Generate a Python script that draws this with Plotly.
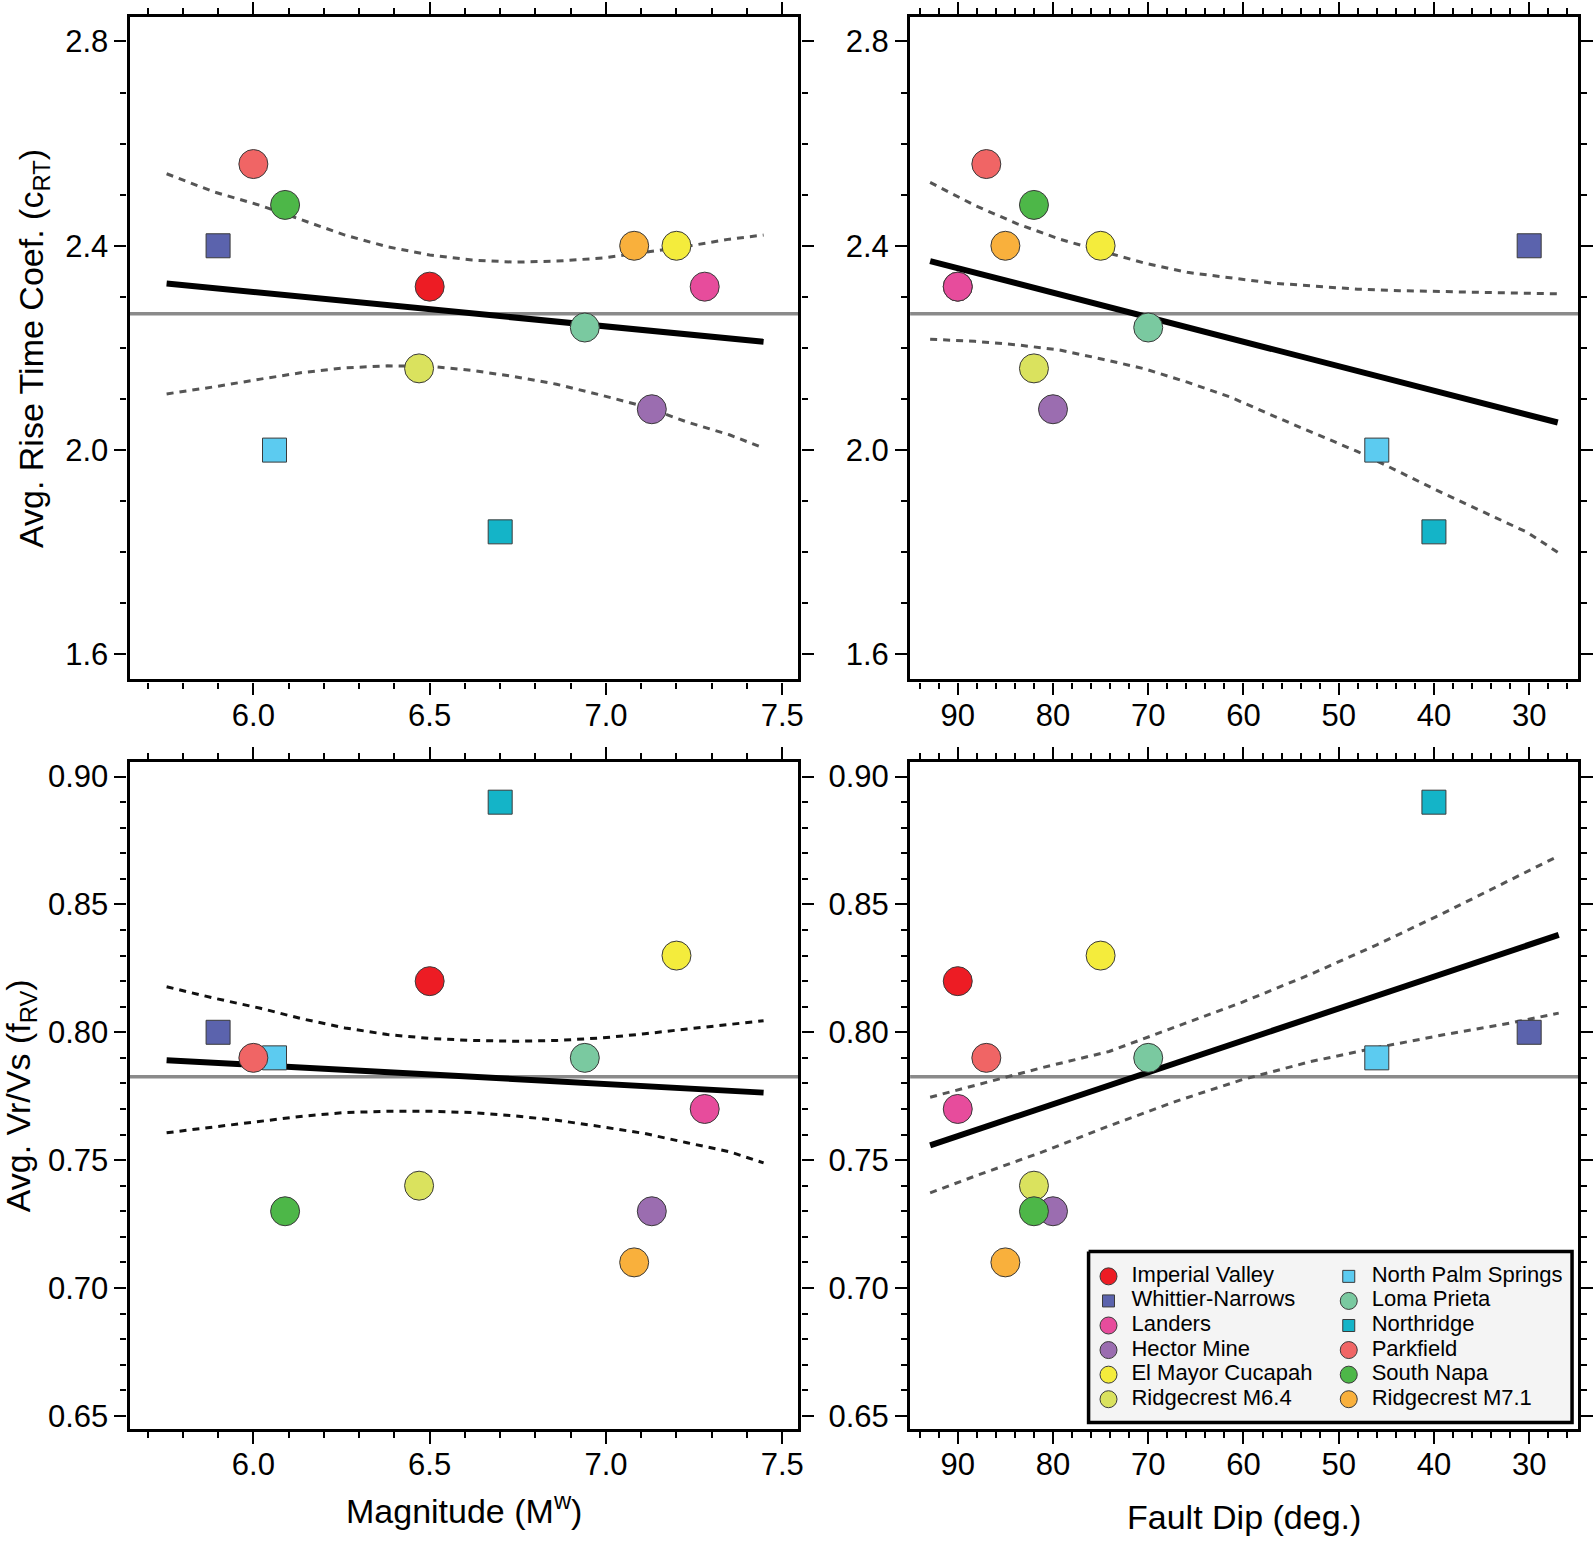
import plotly.graph_objects as go

W, H = 1594, 1542
FONT = "Liberation Sans, Arial, Helvetica, sans-serif"

# ---------------- data ----------------
events = ["Imperial Valley", "Whittier-Narrows", "Landers", "Hector Mine",
          "El Mayor Cucapah", "Ridgecrest M6.4", "North Palm Springs", "Loma Prieta",
          "Northridge", "Parkfield", "South Napa", "Ridgecrest M7.1"]
colors = ["#ED1C24", "#5B63AD", "#E74C9C", "#9B6DB0", "#F4EC3C", "#DAE25E",
          "#5CCBF0", "#7AC9A0", "#14B4C8", "#F06565", "#4DB748", "#F9B03C"]
symbols = ["circle", "square", "circle", "circle", "circle", "circle",
           "square", "circle", "square", "circle", "circle", "circle"]
magnitude = [6.50, 5.90, 7.28, 7.13, 7.20, 6.47, 6.06, 6.94, 6.70, 6.00, 6.09, 7.08]
fault_dip = [90, 30, 90, 80, 75, 82, 46, 70, 40, 87, 82, 85]
rise_coef = [2.32, 2.40, 2.32, 2.08, 2.40, 2.16, 2.00, 2.24, 1.84, 2.56, 2.48, 2.40]
vr_vs = [0.82, 0.80, 0.77, 0.73, 0.83, 0.74, 0.79, 0.79, 0.89, 0.79, 0.73, 0.71]

mean_rise = 2.267
mean_vr = 0.7826

# regression lines
fit_mag_x = [5.754, 7.447]
fit_mag_rise = [2.326, 2.212]
fit_mag_vr = [0.7891, 0.7764]
fit_dip_x = [92.9, 27.0]
fit_dip_rise = [2.370, 2.054]
fit_dip_vr_x = [92.9, 26.9]
fit_dip_vr = [0.7558, 0.8381]

# confidence bands
band_mag_x = [5.754, 5.89, 6.02, 6.14, 6.26, 6.38, 6.50, 6.62, 6.74, 6.86, 6.99, 7.11, 7.23, 7.35, 7.447]
band_mag_rise_up = [2.541, 2.505, 2.479, 2.450, 2.421, 2.398, 2.382, 2.372, 2.368, 2.370, 2.376, 2.387, 2.399, 2.413, 2.421]
band_mag_rise_lo = [2.110, 2.124, 2.139, 2.152, 2.161, 2.165, 2.164, 2.156, 2.144, 2.129, 2.107, 2.085, 2.055, 2.030, 2.004]
band_mag_vr_up = [0.8178, 0.8133, 0.8094, 0.8052, 0.8017, 0.7991, 0.7976, 0.7968, 0.7965, 0.7968, 0.7978, 0.7994, 0.8013, 0.8030, 0.8045]
band_mag_vr_lo = [0.7607, 0.7630, 0.7654, 0.7672, 0.7686, 0.7691, 0.7691, 0.7686, 0.7673, 0.7656, 0.7630, 0.7604, 0.7568, 0.7533, 0.7489]

band_dip_x = [92.9, 88.2, 83.75, 79.3, 74.8, 70.35, 65.9, 61.4, 57.0, 52.5, 48.0, 43.6, 39.1, 34.7, 30.2, 27.0]
band_dip_rise_up = [2.524, 2.479, 2.443, 2.413, 2.389, 2.366, 2.348, 2.337, 2.327, 2.321, 2.315, 2.312, 2.310, 2.308, 2.307, 2.306]
band_dip_rise_lo = [2.217, 2.213, 2.206, 2.196, 2.178, 2.159, 2.133, 2.104, 2.068, 2.033, 1.997, 1.957, 1.916, 1.878, 1.839, 1.800]

band_dip_vr_x = [92.9, 88.0, 81.1, 74.1, 67.1, 60.1, 53.0, 46.0, 39.0, 32.0, 26.9]
band_dip_vr_up = [0.7746, 0.7795, 0.7862, 0.7925, 0.8021, 0.8118, 0.8226, 0.8342, 0.8466, 0.8595, 0.8690]
band_dip_vr_lo = [0.7372, 0.7440, 0.7532, 0.7634, 0.7730, 0.7815, 0.7885, 0.7940, 0.7990, 0.8036, 0.8075]

# ---------------- figure ----------------
fig = go.Figure()

panels = [
    ("x", "y", magnitude, rise_coef, mean_rise, fit_mag_x, fit_mag_rise,
     band_mag_x, band_mag_rise_up, band_mag_rise_lo, "#555555"),
    ("x2", "y2", fault_dip, rise_coef, mean_rise, fit_dip_x, fit_dip_rise,
     band_dip_x, band_dip_rise_up, band_dip_rise_lo, "#555555"),
    ("x3", "y3", magnitude, vr_vs, mean_vr, fit_mag_x, fit_mag_vr,
     band_mag_x, band_mag_vr_up, band_mag_vr_lo, "#111111"),
    ("x4", "y4", fault_dip, vr_vs, mean_vr, fit_dip_vr_x, fit_dip_vr,
     band_dip_vr_x, band_dip_vr_up, band_dip_vr_lo, "#555555"),
]

for xa, ya, xs, ys, mval, fx, fy, bx, bu, bl, dcol in panels:
    fig.add_shape(type="line", xref=f"{xa} domain", yref=ya, x0=0, x1=1, y0=mval, y1=mval,
                  line=dict(color="#8a8a8a", width=3.5), layer="below")
    for band in (bu, bl):
        fig.add_trace(go.Scatter(x=bx, y=band, mode="lines", xaxis=xa, yaxis=ya,
                                 line=dict(color=dcol, width=3, dash="7px,6px"),
                                 showlegend=False, hoverinfo="skip"))
    fig.add_trace(go.Scatter(x=fx, y=fy, mode="lines", xaxis=xa, yaxis=ya,
                             line=dict(color="black", width=6), showlegend=False,
                             hoverinfo="skip"))
    for i, name in enumerate(events):
        is_sq = symbols[i] == "square"
        fig.add_trace(go.Scatter(
            x=[xs[i]], y=[ys[i]], mode="markers", xaxis=xa, yaxis=ya, name=name,
            marker=dict(symbol=symbols[i], size=24 if is_sq else 29, color=colors[i],
                        opacity=1, line=dict(color="#3a3a3a", width=1)),
            showlegend=False))

# ---------------- legend (pixel overlay axes) ----------------
box_x0, box_x1, box_y0, box_y1 = 1092, 1577, 1255, 1427
fig.add_trace(go.Scatter(x=[box_x0, box_x1, box_x1, box_x0, box_x0],
                         y=[box_y0, box_y0, box_y1, box_y1, box_y0],
                         mode="lines", fill="toself", fillcolor="#F4F4F4",
                         line=dict(color="black", width=3.5), xaxis="x5", yaxis="y5",
                         showlegend=False, hoverinfo="skip"))
leg_mx, leg_my, leg_tx, leg_sz = [], [], [], []
for i in range(len(events)):
    col = 0 if i < 6 else 1
    row = i % 6
    leg_mx.append([1112, 1353][col])
    leg_tx.append([1135, 1376][col])
    leg_my.append(1280 + 24.7 * row)
    leg_sz.append(12 if symbols[i] == "square" else 17)
fig.add_trace(go.Scatter(
    x=leg_mx, y=leg_my, mode="markers", xaxis="x5", yaxis="y5",
    marker=dict(symbol=symbols, size=leg_sz, color=colors, opacity=1,
                line=dict(color="#3a3a3a", width=1)),
    showlegend=False, hoverinfo="skip"))
fig.add_trace(go.Scatter(
    x=leg_tx, y=leg_my, mode="text", text=events, textposition="middle right",
    textfont=dict(family=FONT, size=22, color="black"), xaxis="x5", yaxis="y5",
    showlegend=False, hoverinfo="skip"))

# ---------------- axes ----------------
def base_axis(**kw):
    d = dict(showline=True, linewidth=3.2, linecolor="black", mirror="ticks",
             ticks="outside", ticklen=12, tickwidth=2, tickcolor="black",
             tickfont=dict(family=FONT, size=31, color="black"),
             showgrid=False, zeroline=False,
             minor=dict(ticks="outside", ticklen=6, tickwidth=1.5, tickcolor="black", showgrid=False))
    d.update(kw)
    return d

xl = [130 / W, 801 / W]
xr = [913 / W, 1583 / W]
yt = [1 - 680 / H, 1 - 14 / H]
yb = [1 - 1433 / H, 1 - 763 / H]

mag_axis = dict(range=[5.649, 7.546], tick0=6.0, dtick=0.5, tickformat=".1f", ticklabelstandoff=-6)
dip_axis = dict(range=[95.0, 24.87], tick0=30, dtick=10, ticklabelstandoff=-6)
rise_axis = dict(range=[1.551, 2.848], tick0=1.6, dtick=0.4, tickformat=".1f")
vr_axis = dict(range=[0.645, 0.9057], tick0=0.65, dtick=0.05, tickformat=".2f")

fig.update_layout(
    xaxis=base_axis(domain=xl, anchor="y", **mag_axis),
    xaxis2=base_axis(domain=xr, anchor="y2", **dip_axis),
    xaxis3=base_axis(domain=xl, anchor="y3", **mag_axis),
    xaxis4=base_axis(domain=xr, anchor="y4", **dip_axis),
    yaxis=base_axis(domain=yt, anchor="x", **rise_axis),
    yaxis2=base_axis(domain=yt, anchor="x2", **rise_axis),
    yaxis3=base_axis(domain=yb, anchor="x3", **vr_axis),
    yaxis4=base_axis(domain=yb, anchor="x4", **vr_axis),
    xaxis5=dict(domain=[0, 1], range=[0, W], visible=False, anchor="y5"),
    yaxis5=dict(domain=[0, 1], range=[H, 0], visible=False, anchor="x5"),
)
for ax in ["xaxis", "xaxis3"]:
    fig.layout[ax].minor.dtick = 0.1
for ax in ["xaxis2", "xaxis4"]:
    fig.layout[ax].minor.dtick = 2
for ax in ["yaxis", "yaxis2"]:
    fig.layout[ax].minor.dtick = 0.1
for ax in ["yaxis3", "yaxis4"]:
    fig.layout[ax].minor.dtick = 0.01

title_font = dict(family=FONT, size=34, color="black")
annotations = [
    dict(text="Magnitude (M<sup>w</sup>)", x=465.5 / W, y=1 - 1513 / H, xref="paper", yref="paper",
         xanchor="center", yanchor="middle", showarrow=False, font=title_font),
    dict(text="Fault Dip (deg.)", x=1248 / W, y=1 - 1522 / H, xref="paper", yref="paper",
         xanchor="center", yanchor="middle", showarrow=False, font=title_font),
    dict(text="Avg. Rise Time Coef. (c<sub>RT</sub>)", x=33 / W, y=1 - 347 / H, xref="paper", yref="paper",
         xanchor="center", yanchor="middle", textangle=-90, showarrow=False, font=title_font),
    dict(text="Avg. Vr/Vs (f<sub>RV</sub>)", x=20 / W, y=1 - 1098 / H, xref="paper", yref="paper",
         xanchor="center", yanchor="middle", textangle=-90, showarrow=False, font=title_font),
]

fig.update_layout(
    width=W, height=H, autosize=False,
    margin=dict(l=0, r=0, t=0, b=0),
    paper_bgcolor="white", plot_bgcolor="rgba(0,0,0,0)",
    showlegend=False, annotations=annotations,
    font=dict(family=FONT, color="black"),
)

fig.write_html("out.html", config={"displayModeBar": False},
               post_script="document.body.style.margin='0px';")
